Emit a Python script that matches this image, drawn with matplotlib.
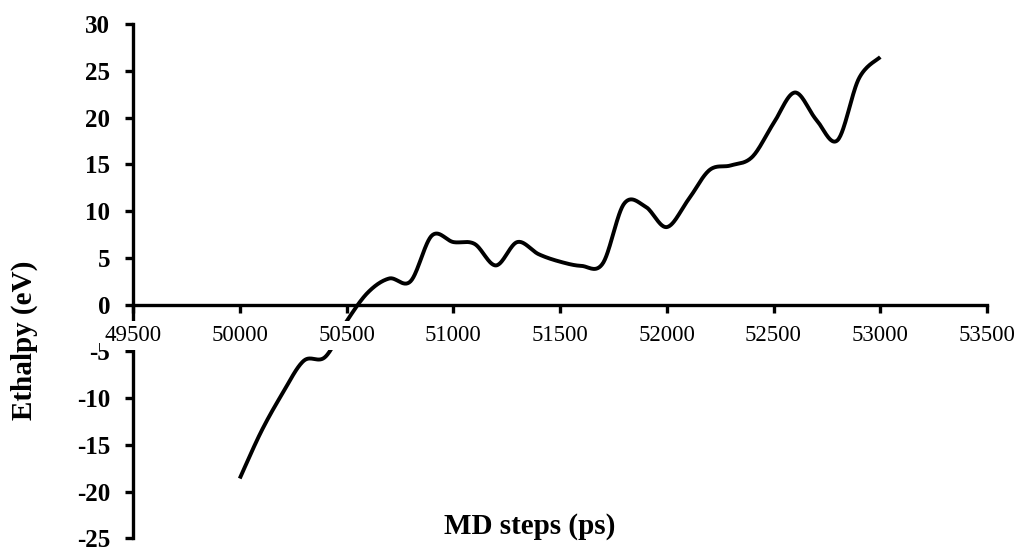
import numpy as np
import matplotlib
matplotlib.use("Agg")
import matplotlib.pyplot as plt

# ---- data ----
steps = [50000, 50100, 50200, 50300, 50400, 50500, 50600, 50700, 50800, 50900,
         51000, 51100, 51200, 51300, 51400, 51500, 51600, 51700, 51800, 51900,
         52000, 52100, 52200, 52300, 52400, 52500, 52600, 52700, 52800, 52900,
         53000]
enthalpy = [-18.6, -13.6, -9.5, -6.0, -5.6, -1.8, 1.3, 2.8, 2.5, 7.4,
            6.7, 6.5, 4.2, 6.7, 5.4, 4.6, 4.15, 4.4, 10.8, 10.5,
            8.3, 11.2, 14.4, 14.9, 15.8, 19.4, 22.7, 19.8, 17.6, 24.2,
            26.5]
x_ticks = [49500, 50000, 50500, 51000, 51500, 52000, 52500, 53000, 53500]
y_ticks = [-25, -20, -15, -10, -5, 0, 5, 10, 15, 20, 25, 30]
x_label = "MD steps (ps)"
y_label = "Ethalpy (eV)"


def smooth(xs, ys, n=30):
    """Excel-style smoothed line (Bezier with Catmull-Rom control points)."""
    P = np.column_stack([xs, ys]).astype(float)
    m = len(P)
    out = []
    for i in range(m - 1):
        p0 = P[i - 1] if i > 0 else P[i]
        p1 = P[i]
        p2 = P[i + 1]
        p3 = P[i + 2] if i + 2 < m else P[i + 1]
        c1 = p1 + (p2 - p0) / 6.0
        c2 = p2 - (p3 - p1) / 6.0
        t = np.linspace(0, 1, n, endpoint=(i == m - 2))[:, None]
        seg = ((1 - t) ** 3) * p1 + 3 * ((1 - t) ** 2) * t * c1 + 3 * (1 - t) * t ** 2 * c2 + t ** 3 * p2
        out.append(seg)
    out = np.vstack(out)
    return out[:, 0], out[:, 1]


plt.rcParams['font.family'] = ['Liberation Serif', 'DejaVu Serif']

fig = plt.figure(figsize=(10.19, 5.47), dpi=100)
ax = fig.add_axes([133 / 1019, 1 - 538.3 / 547, 854 / 1019, 514 / 547])

sx, sy = smooth(steps, enthalpy)
ax.plot(sx, sy, color='black', lw=2.8, solid_capstyle='butt', zorder=2)

ax.set_xlim(49500, 53500)
ax.set_ylim(-25, 30)
ax.set_xticks(x_ticks)
ax.set_yticks(y_ticks)
ax.set_xticklabels([str(v) for v in x_ticks])
ax.set_yticklabels([str(v) for v in y_ticks])

for s in ['top', 'right']:
    ax.spines[s].set_visible(False)
ax.spines['bottom'].set_position(('data', 0))
ax.spines['left'].set_linewidth(2.4)
ax.spines['bottom'].set_linewidth(2.4)

ax.tick_params(axis='x', direction='out', length=5.5, width=2.4, pad=9,
               labelsize=16.5, colors='black')
ax.tick_params(axis='y', direction='out', length=5.5, width=2.4, pad=11,
               labelsize=18, colors='black')
for lab in ax.get_yticklabels():
    lab.set_fontweight('bold')
for lab in ax.get_xticklabels():
    lab.set_fontweight('normal')
    lab.set_bbox(dict(facecolor='white', edgecolor='none', pad=3))
ax.xaxis.set_zorder(3)

fig.text(24 / 1019, 1 - 340 / 547, y_label, rotation=90, ha='center', va='center',
         fontsize=21, fontweight='bold')
fig.text(530 / 1019, 1 - 527 / 547, x_label, ha='center', va='center',
         fontsize=21, fontweight='bold')

fig.savefig('out.png', dpi=100)
